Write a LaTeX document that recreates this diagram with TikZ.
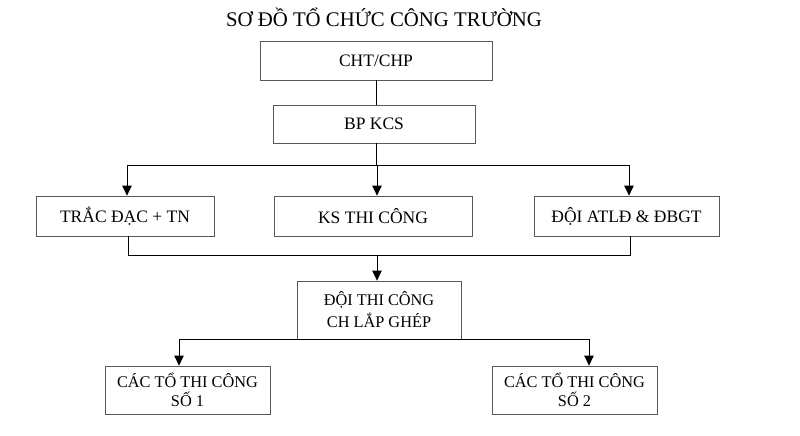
\documentclass[tikz,border=0pt]{standalone}
\usepackage{fontspec}
\setmainfont{Liberation Serif}
\usetikzlibrary{arrows.meta}
\tikzset{
  box/.style={draw=black!65, line width=0.8pt, minimum width=#1, inner sep=0pt, font=\fontsize{17.5}{20}\selectfont, align=center},
  box2/.style={draw=black!65, line width=0.8pt, minimum width=#1, inner sep=0pt, font=\fontsize{16.3}{22}\selectfont, align=center},
  conn/.style={line width=0.9pt, black},
  arr/.style={conn, -{Triangle[length=10pt,width=9.5pt]}}
}
\begin{document}
\begin{tikzpicture}[x=1pt,y=-1pt]
\useasboundingbox (0,0) rectangle (800,436);
\node[font=\fontsize{20.8}{24}\selectfont] (title) at (384,17) {SƠ ĐỒ TỔ CHỨC CÔNG TRƯỜNG};
\node[box=232pt, minimum height=39pt] (cht) at (376,60.5) {CHT/CHP};
\node[box=202pt, minimum height=38pt] (bp) at (374,124) {BP KCS};
\node[box=178pt, minimum height=40pt] (trac) at (125,216) {TRẮC ĐẠC + TN};
\node[box=198pt, minimum height=40pt] (ks) at (373,216) {KS THI CÔNG};
\node[box=185pt, minimum height=40pt] (doi) at (626.5,216) {ĐỘI ATLĐ \& ĐBGT};
\node[box2=164pt, minimum height=58pt] (dtc) at (379,310) {ĐỘI THI CÔNG\\CH LẮP GHÉP};
\node[box2=165pt, minimum height=48pt, font=\fontsize{16.3}{19.5}\selectfont] (c1) at (187.5,390) {CÁC TỔ THI CÔNG\\SỐ 1};
\node[box2=165pt, minimum height=48pt, font=\fontsize{16.3}{19.5}\selectfont] (c2) at (574.5,390) {CÁC TỔ THI CÔNG\\SỐ 2};
% top connectors
\coordinate (a1) at (376,80);
\coordinate (a2) at (376,165);
\coordinate (bL) at (127,165);
\coordinate (bM) at (377,165);
\coordinate (bR) at (629,165);
\draw[conn] (cht.south -| a1) -- (bp.north -| a1);
\draw[conn] (bp.south -| a2) -- (a2);
\draw[conn] (bL) -- (bR);
\draw[arr] (bL) -- (trac.north -| bL);
\draw[arr] (bM) -- (ks.north -| bM);
\draw[arr] (bR) -- (doi.north -| bR);
% middle bus
\coordinate (mL) at (128,255);
\coordinate (mR) at (630,255);
\coordinate (mM) at (377,255);
\draw[conn] (trac.south -| mL) -- (mL) -- (mR) -- (doi.south -| mR);
\draw[arr] (mM) -- (dtc.north -| mM);
% lower bus
\coordinate (lL) at (179,339);
\coordinate (lR) at (589,339);
\draw[conn] (lL) -- (lR);
\draw[arr] (lL) -- (c1.north -| lL);
\draw[arr] (lR) -- (c2.north -| lR);
\end{tikzpicture}
\end{document}
